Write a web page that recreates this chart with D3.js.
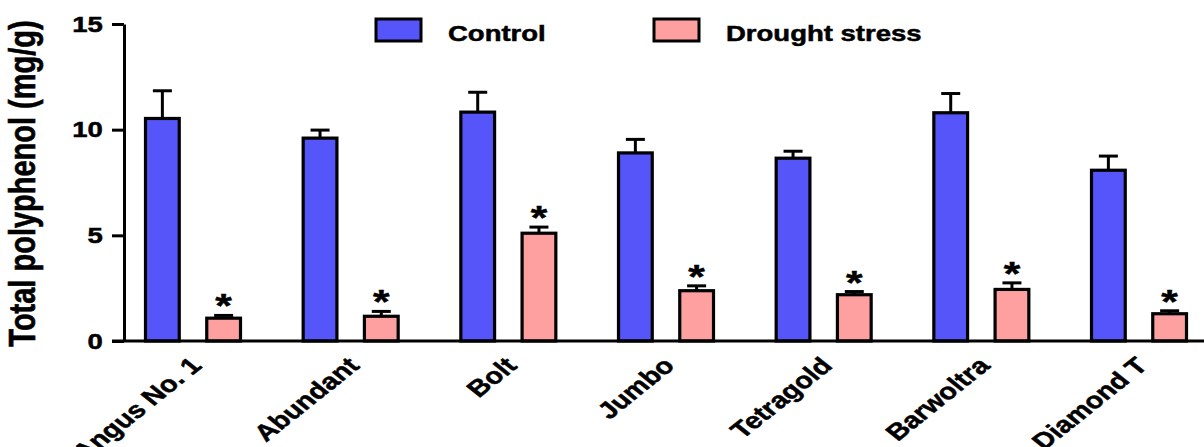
<!DOCTYPE html>
<html>
<head>
<meta charset="utf-8">
<script src="https://cdn.jsdelivr.net/npm/d3@7"></script>
<style>
  body { margin: 0; background: #fff; }
  text { font-family: "Liberation Sans", Arial, Helvetica, sans-serif; font-weight: bold; fill: #000; stroke: #000; stroke-width: 0.5px; }
</style>
</head>
<body>
<div id="chart"></div>
<script>
// data
var cultivars = ["Angus No. 1", "Abundant", "Bolt", "Jumbo", "Tetragold", "Barwoltra", "Diamond T"];
var controlMean = [10.53, 9.6, 10.83, 8.9, 8.65, 10.8, 8.08];
var controlErr = [1.31, 0.38, 0.94, 0.64, 0.33, 0.91, 0.67];
var droughtMean = [1.08, 1.17, 5.1, 2.38, 2.19, 2.44, 1.29];
var droughtErr = [0.13, 0.23, 0.29, 0.23, 0.15, 0.31, 0.14];
var seriesNames = ["Control", "Drought stress"];
var seriesColors = ["#5555f9", "#ffa0a0"];
var yTicks = [0, 5, 10, 15];

var width = 1204, height = 447;
var stretch = 1.25; // figure is stretched horizontally

var svg = d3.select("#chart").append("svg")
    .attr("width", width)
    .attr("height", height);

var y = d3.scaleLinear().domain([0, 15]).range([341, 24]);
var x0 = d3.scalePoint().domain(cultivars).range([193, 1139]);
var x1 = d3.scaleBand().domain(seriesNames).range([-49, 49]).paddingInner(0.4);

var rows = [];
cultivars.forEach(function(c, i) {
  rows.push({cat: c, s: seriesNames[0], v: controlMean[i], e: controlErr[i], star: false});
  rows.push({cat: c, s: seriesNames[1], v: droughtMean[i], e: droughtErr[i], star: true});
});
var color = d3.scaleOrdinal().domain(seriesNames).range(seriesColors);

// error bars (drawn first so bar outline sits over the stem base)
var eb = svg.append("g").attr("stroke", "#000").attr("stroke-width", 3);
rows.forEach(function(d) {
  var cx = x0(d.cat) + x1(d.s) + x1.bandwidth() / 2;
  eb.append("line").attr("x1", cx).attr("x2", cx).attr("y1", y(d.v)).attr("y2", y(d.v + d.e));
  eb.append("line").attr("x1", cx - 9.5).attr("x2", cx + 9.5).attr("y1", y(d.v + d.e)).attr("y2", y(d.v + d.e));
});

// bars
svg.append("g").selectAll("rect")
  .data(rows)
  .enter().append("rect")
    .attr("x", function(d) { return x0(d.cat) + x1(d.s) + 1.5; })
    .attr("width", x1.bandwidth() - 3)
    .attr("y", function(d) { return y(d.v); })
    .attr("height", function(d) { return y(0) - y(d.v); })
    .attr("fill", function(d) { return color(d.s); })
    .attr("stroke", "#000")
    .attr("stroke-width", 3.2);

// significance stars
svg.append("g").selectAll("text")
  .data(rows.filter(function(d) { return d.star; }))
  .enter().append("text")
    .attr("text-anchor", "middle")
    .style("font-size", "34px")
    .attr("transform", function(d) {
      var cx = x0(d.cat) + x1(d.s) + x1.bandwidth() / 2;
      return "translate(" + cx + "," + (y(d.v + d.e) + 2) + ") scale(" + stretch + ",1)";
    })
    .text("*");

// y axis
var yAxis = svg.append("g")
  .attr("transform", "translate(124,0)")
  .call(d3.axisLeft(y).tickValues(yTicks).tickSize(12).tickPadding(5).tickSizeOuter(0));
yAxis.select(".domain").attr("stroke-width", 3);
yAxis.selectAll(".tick line").attr("stroke-width", 3);
yAxis.selectAll(".tick text")
  .style("font-size", "22px")
  .style("font-family", "'Liberation Sans', Arial, sans-serif")
  .attr("transform", "scale(" + stretch + ",1)");

// x baseline
svg.append("line")
  .attr("x1", 112).attr("x2", width)
  .attr("y1", y(0)).attr("y2", y(0))
  .attr("stroke", "#000").attr("stroke-width", 3);

// x labels
svg.append("g").selectAll("text")
  .data(cultivars)
  .enter().append("text")
    .attr("text-anchor", "end")
    .style("font-size", "23px")
    .attr("transform", function(d) {
      return "translate(" + (x0(d) + 10) + ",367) scale(" + stretch + ",1) rotate(-45)";
    })
    .text(function(d) { return d; });

// y title
svg.append("text")
  .attr("text-anchor", "middle")
  .style("font-size", "29px")
  .attr("transform", "translate(35,183.5) scale(" + stretch + ",1) rotate(-90)")
  .text("Total polyphenol (mg/g)");

// legend
var legendX = [376, 654];
var leg = svg.append("g").selectAll("g")
  .data(seriesNames)
  .enter().append("g")
    .attr("transform", function(d, i) { return "translate(" + legendX[i] + ",19)"; });
leg.append("rect")
  .attr("width", 45).attr("height", 22)
  .attr("fill", function(d) { return color(d); })
  .attr("stroke", "#000").attr("stroke-width", 3);
leg.append("text")
  .style("font-size", "22px")
  .attr("transform", "translate(72,21.5) scale(" + stretch + ",1)")
  .text(function(d) { return d; });
</script>
</body>
</html>
